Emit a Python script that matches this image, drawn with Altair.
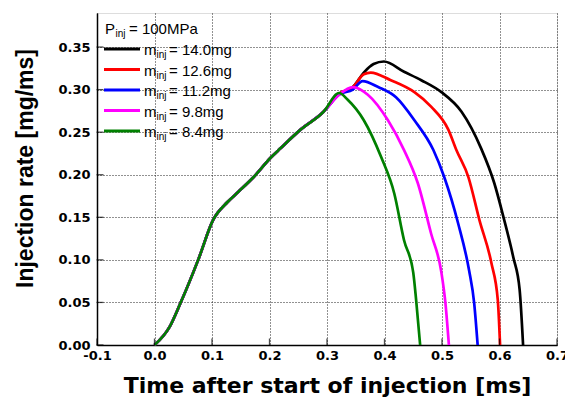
import altair as alt
import pandas as pd

series_masses = ["14.0mg", "12.6mg", "11.2mg", "9.8mg", "8.4mg"]
series_colors = ["#000000", "#ff0000", "#0000ff", "#ff00ff", "#008000"]
legend_title_main = "P"
legend_title_rest = "= 100MPa"
legend_symbol = "m"
legend_sub = "inj"

rise_t = [0.0, 0.026, 0.045, 0.076, 0.102, 0.127, 0.146, 0.172, 0.202, 0.219, 0.254, 0.294]
rise_r = [0.0, 0.021, 0.049, 0.100, 0.147, 0.168, 0.180, 0.197, 0.220, 0.231, 0.253, 0.274]

t_140 = [0.321, 0.345, 0.364, 0.381, 0.399, 0.434, 0.464, 0.499, 0.534, 0.568, 0.591, 0.607, 0.624, 0.635, 0.641]
r_140 = [0.295, 0.303, 0.320, 0.330, 0.333, 0.321, 0.311, 0.297, 0.274, 0.231, 0.190, 0.150, 0.103, 0.065, 0.0]

t_126 = [0.321, 0.345, 0.364, 0.376, 0.411, 0.452, 0.481, 0.511, 0.525, 0.546, 0.565, 0.586, 0.597, 0.601]
r_126 = [0.295, 0.303, 0.318, 0.320, 0.311, 0.297, 0.280, 0.253, 0.229, 0.197, 0.147, 0.096, 0.053, 0.0]

t_112 = [0.321, 0.345, 0.362, 0.389, 0.420, 0.452, 0.485, 0.504, 0.528, 0.547, 0.556, 0.562]
r_112 = [0.294, 0.300, 0.310, 0.303, 0.291, 0.264, 0.229, 0.197, 0.143, 0.088, 0.049, 0.0]

t_98 = [0.321, 0.345, 0.371, 0.406, 0.434, 0.458, 0.481, 0.499, 0.506, 0.512]
r_98 = [0.294, 0.303, 0.294, 0.264, 0.229, 0.190, 0.131, 0.085, 0.049, 0.0]

t_84 = [0.321, 0.336, 0.364, 0.394, 0.417, 0.434, 0.450, 0.455, 0.462]
r_84 = [0.296, 0.288, 0.264, 0.221, 0.178, 0.123, 0.085, 0.053, 0.0]

x_ticks = [-0.1, 0.0, 0.1, 0.2, 0.3, 0.4, 0.5, 0.6, 0.7]
y_ticks = [0.0, 0.05, 0.10, 0.15, 0.20, 0.25, 0.30, 0.35]

tails = [(t_140, r_140), (t_126, r_126), (t_112, r_112), (t_98, r_98), (t_84, r_84)]
rows = []
for i, (name, (tt, rr)) in enumerate(zip(series_masses, tails)):
    k = 0
    for t, r in zip(rise_t + tt, rise_r + rr):
        rows.append({"series": name, "t": t, "r": r, "k": k, "ord": i})
        k += 1
df = pd.DataFrame(rows)

xscale = alt.Scale(domain=[-0.1, 0.7], nice=False, zero=False)
yscale = alt.Scale(domain=[0, 0.39], nice=False, zero=False)

x_enc = alt.X("t:Q", scale=xscale, title="Time after start of injection [ms]",
              axis=alt.Axis(values=x_ticks, format=".1f", grid=True, gridDash=[1, 2],
                            labelExpr="replace(datum.label, '\u2212', '-')",
                            gridColor="#222222", gridWidth=1, ticks=False,
                            labelFont="DejaVu Sans", labelFontWeight="bold", labelFontSize=13,
                            labelColor="black", labelPadding=4, labelFlush=False,
                            titleFont="DejaVu Sans", titleFontWeight="bold", titleFontSize=22,
                            titleColor="black", titlePadding=13,
                            domainColor="black", domainWidth=1.5))
y_enc = alt.Y("r:Q", scale=yscale, title="Injection rate [mg/ms]",
              axis=alt.Axis(values=y_ticks, format=".2f", grid=True, gridDash=[1, 2],
                            gridColor="#222222", gridWidth=1, ticks=False,
                            labelFont="DejaVu Sans", labelFontWeight="bold", labelFontSize=13,
                            labelColor="black", labelPadding=7, labelFlush=False,
                            titleFont="Liberation Sans", titleFontWeight="bold", titleFontSize=23,
                            titleColor="black", titlePadding=20, titleY=155,
                            domainColor="black", domainWidth=1.5))

lines = alt.Chart(df).mark_line(strokeWidth=2.7, interpolate="monotone").encode(
    x=x_enc,
    y=y_enc,
    color=alt.Color("series:N", scale=alt.Scale(domain=series_masses, range=series_colors), legend=None),
    order=alt.Order("k:Q"),
    detail="ord:N",
)

xt = pd.DataFrame({"t": x_ticks, "r": [0.0] * len(x_ticks)})
yt = pd.DataFrame({"t": [-0.1] * len(y_ticks), "r": y_ticks})
xtick_layer = alt.Chart(xt).mark_tick(orient="vertical", size=7, thickness=1.3, color="black", yOffset=-3).encode(
    x=alt.X("t:Q", scale=xscale), y=alt.Y("r:Q", scale=yscale))
ytick_layer = alt.Chart(yt).mark_tick(orient="horizontal", size=7, thickness=1.3, color="black", xOffset=3).encode(
    x=alt.X("t:Q", scale=xscale), y=alt.Y("r:Q", scale=yscale))

# hand-drawn legend (so that "inj" can be a real subscript)
leg = pd.DataFrame({"row": list(range(len(series_masses))), "mass": series_masses, "color": series_colors})
leg_base = alt.Chart(leg).transform_calculate(
    py="36 + 20.5 * datum.row",
    pyt="42 + 20.5 * datum.row",
    pys="45 + 20.5 * datum.row",
    rest="'= ' + datum.mass",
    msym="'" + legend_symbol + "'",
    msub="'" + legend_sub + "'",
)
leg_lines = leg_base.mark_rule(strokeWidth=3).encode(
    x=alt.value(7), x2=alt.value(43),
    y=alt.Y("py:Q", scale=None, axis=None),
    color=alt.Color("color:N", scale=None, legend=None),
)
txt = dict(align="left", baseline="alphabetic", font="Liberation Sans", color="black")
leg_m = leg_base.mark_text(fontSize=15, **txt).encode(
    x=alt.value(47), y=alt.Y("pyt:Q", scale=None, axis=None), text="msym:N")
leg_sub = leg_base.mark_text(fontSize=10, **txt).encode(
    x=alt.value(59.5), y=alt.Y("pys:Q", scale=None, axis=None), text="msub:N")
leg_rest = leg_base.mark_text(fontSize=15, **txt).encode(
    x=alt.value(72), y=alt.Y("pyt:Q", scale=None, axis=None), text="rest:N")

title_df = pd.DataFrame({"main": [legend_title_main], "sub": [legend_sub], "rest": [legend_title_rest]})
tbase = alt.Chart(title_df)
leg_t1 = tbase.mark_text(fontSize=15, **txt).encode(x=alt.value(8), y=alt.value(21), text="main:N")
leg_t2 = tbase.mark_text(fontSize=10, **txt).encode(x=alt.value(18.5), y=alt.value(24), text="sub:N")
leg_t3 = tbase.mark_text(fontSize=15, **txt).encode(x=alt.value(32), y=alt.value(21), text="rest:N")

chart = alt.layer(lines, xtick_layer, ytick_layer, leg_lines, leg_m, leg_sub, leg_rest,
                  leg_t1, leg_t2, leg_t3).properties(
    width=460, height=332,
    padding={"left": 97, "top": 13, "right": 8, "bottom": 58},
    autosize=alt.AutoSizeParams(type="none"),
).configure_view(stroke="black", strokeWidth=1.5).configure(background="white")

chart.save("out.html", embed_options={"renderer": "svg", "actions": False})
